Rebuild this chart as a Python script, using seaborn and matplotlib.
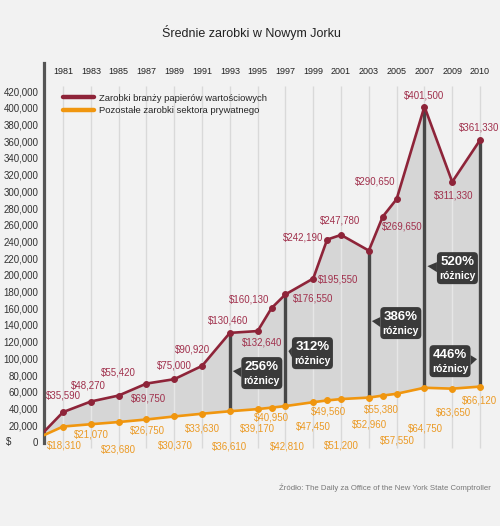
import matplotlib
matplotlib.use('Agg')
import matplotlib.pyplot as plt
import seaborn as sns
import pandas as pd
from matplotlib.lines import Line2D
from matplotlib.patches import FancyBboxPatch, Polygon
from matplotlib.transforms import IdentityTransform

sns.set_theme(style='white')
plt.rcParams['font.family'] = ['Liberation Sans', 'DejaVu Sans']

years = [1980, 1981, 1983, 1985, 1987, 1989, 1991, 1993, 1995, 1996,
         1997, 1999, 2000, 2001, 2003, 2004, 2005, 2007, 2009, 2010]
securities = [12000, 35590, 48270, 55420, 69750, 75000, 90920, 130460, 132640, 160130,
              176550, 195550, 242190, 247780, 229000, 269650, 290650, 401500, 311330, 361330]
private = [8000, 18310, 21070, 23680, 26750, 30370, 33630, 36610, 39170, 40950,
           42810, 47450, 49560, 51200, 52960, 55380, 57550, 64750, 63650, 66120]
tick_years = [1981, 1983, 1985, 1987, 1989, 1991, 1993, 1995, 1997, 1999,
              2001, 2003, 2005, 2007, 2009, 2010]
gap_years = [1993, 1997, 2003, 2007, 2010]
gap_labels = ['256%', '312%', '386%', '520%', '446%']

RED = '#8e2439'
RED_TXT = '#a0304c'
ORANGE = '#f0960f'
ORANGE_TXT = '#eb9a25'
BOX = '#3a3a3a'
BG = '#f2f2f2'
X_LEFT = 1979.63


def slot(year):
    # two years per slot on the axis, 2010 sits one slot after 2009
    if year < 1981:
        return X_LEFT
    if year == 2010:
        return 2011
    return year


df = pd.DataFrame({'year': years, 'securities': securities, 'private': private})
df['x'] = df['year'].map(slot)

fig = plt.figure(figsize=(5, 5.26), dpi=100, facecolor=BG)
ax = fig.add_axes([0.088, 0.157, 0.894, 0.723])
ax.set_facecolor(BG)

# grid lines (darker on background, lighter inside the filled band)
tick_x = [slot(y) for y in tick_years]
ax.vlines(tick_x, -0.012, 0.94, transform=ax.get_xaxis_transform(),
          color='#d9d9d9', lw=1, zorder=0, clip_on=False)
band = ax.fill_between(df['x'], df['private'], df['securities'], color='#d6d6d6', lw=0, zorder=1)
inner = ax.vlines(tick_x, -0.012, 0.94, transform=ax.get_xaxis_transform(),
                  color='#e6e6e6', lw=1, zorder=1.5)
inner.set_clip_path(band.get_paths()[0], ax.transData)

# dark difference bars
gap = df[df['year'].isin(gap_years)]
ax.vlines(gap['x'], gap['private'], gap['securities'], color='#474747', lw=2.4, zorder=2)

sns.lineplot(data=df, x='x', y='securities', color=RED, lw=1.9, marker='o', ms=4.2,
             mec=RED, ax=ax, zorder=4, legend=False)
sns.lineplot(data=df, x='x', y='private', color=ORANGE, lw=1.9, marker='o', ms=4.2,
             mec=ORANGE, ax=ax, zorder=4, legend=False)
# the starting point has no marker
for ln in ax.lines:
    ln.set_markevery(list(range(1, len(df))))

ax.set_xlim(X_LEFT, 2011.79)
ax.set_ylim(-1916, 453532)

ax.set_yticks(range(0, 420001, 20000))
ax.set_yticklabels([f'{v:,}' for v in range(0, 420001, 20000)], fontsize=7, color='#333333')
ax.xaxis.tick_top()
ax.set_xticks(tick_x)
ax.set_xticklabels([str(y) for y in tick_years], fontsize=6.5, color='#222222')
ax.tick_params(axis='x', length=0, pad=-9.5)
ax.tick_params(axis='y', length=0, pad=4)
ax.set_xlabel('')
ax.set_ylabel('')
for side in ['top', 'right', 'bottom']:
    ax.spines[side].set_visible(False)
ax.spines['left'].set_color('#555555')
ax.spines['left'].set_linewidth(2.3)
ax.text(-0.08, 0.005, '$', transform=ax.transAxes, fontsize=7, color='#333333',
        ha='center', va='center')

# value labels (pixel offsets from the point)
red_off = [None, (0, 17), (-2, 16), (0, 23), (2, -15), (0, 14), (-10, 16), (-2, 12), (4, -11),
           (-22, 9), (28, -4), (25, -1), (-24, 2), (-1, 14), None, (20, -10), (-21, 18),
           (0, 11), (1, -14), (-1, 13)]
orange_off = [None, (1, -19), (1, -10), (0, -27), (1, -11), (1, -29), (0, -15), (0, -35),
              (0, -19), (0, -10), (2, -40), (0, -24), (1, -11), (0, -46), (1, -27), (-1, -14),
              (1, -47), (1, -41), (1, -24), (-1, -14)]
for i, row in df.iterrows():
    if red_off[i] is not None:
        ax.annotate(f"${int(row['securities']):,}", (row['x'], row['securities']),
                    xytext=red_off[i], textcoords='offset pixels', ha='center', va='center',
                    fontsize=7, color=RED_TXT, zorder=6)
    if orange_off[i] is not None:
        ax.annotate(f"${int(row['private']):,}", (row['x'], row['private']),
                    xytext=orange_off[i], textcoords='offset pixels', ha='center', va='center',
                    fontsize=7, color=ORANGE_TXT, zorder=6, annotation_clip=False)

# callouts: pointer height and horizontal offset (px) of the box from its bar
call_y = [82300, 106200, 142200, 208000, 96600]
call_dx = [32, 27, 32, 33, -30]
bw, bh = 41, 32
for yr, lab, cy, dx in zip(gap_years, gap_labels, call_y, call_dx):
    x = slot(yr)
    px, py = ax.transData.transform((x, cy))
    cx = px + dx
    ax.add_patch(FancyBboxPatch((cx - bw / 2, py - bh / 2), bw, bh,
                                boxstyle='round,pad=0,rounding_size=4', fc=BOX, ec='none',
                                transform=IdentityTransform(), zorder=7, clip_on=False))
    side = 1 if dx > 0 else -1
    edge = cx - side * bw / 2
    tip = px + side * 3
    ax.add_patch(Polygon([(edge, py + 6), (edge, py - 4), (tip, py + 2)], closed=True,
                         fc=BOX, ec='none', transform=IdentityTransform(), zorder=7,
                         clip_on=False))
    ax.annotate(lab, (x, cy), xytext=(dx, 6), textcoords='offset pixels', ha='center',
                va='center', fontsize=9.5, fontweight='bold', color='white', zorder=8)
    ax.annotate('różnicy', (x, cy), xytext=(dx, -8), textcoords='offset pixels', ha='center',
                va='center', fontsize=7.5, fontweight='bold', color='white', zorder=8)

handles = [Line2D([], [], color=RED, lw=3.2), Line2D([], [], color=ORANGE, lw=3.2)]
ax.legend(handles, ['Zarobki branży papierów wartościowych',
                    'Pozostałe zarobki sektora prywatnego'],
          loc='upper left', bbox_to_anchor=(0.035, 0.93), frameon=False, fontsize=6.8,
          handlelength=3.2, handletextpad=0.6, labelspacing=0.35, borderaxespad=0)

fig.text(0.503, 1 - 33 / 526, 'Średnie zarobki w Nowym Jorku', ha='center', va='center',
         fontsize=9, color='#222222')
fig.text(0.982, 1 - 488 / 526,
         'Źródło: The Daily za Office of the New York State Comptroller',
         ha='right', va='center', fontsize=5.6, color='#777777')

fig.savefig('out.png', dpi=100, facecolor=BG)
